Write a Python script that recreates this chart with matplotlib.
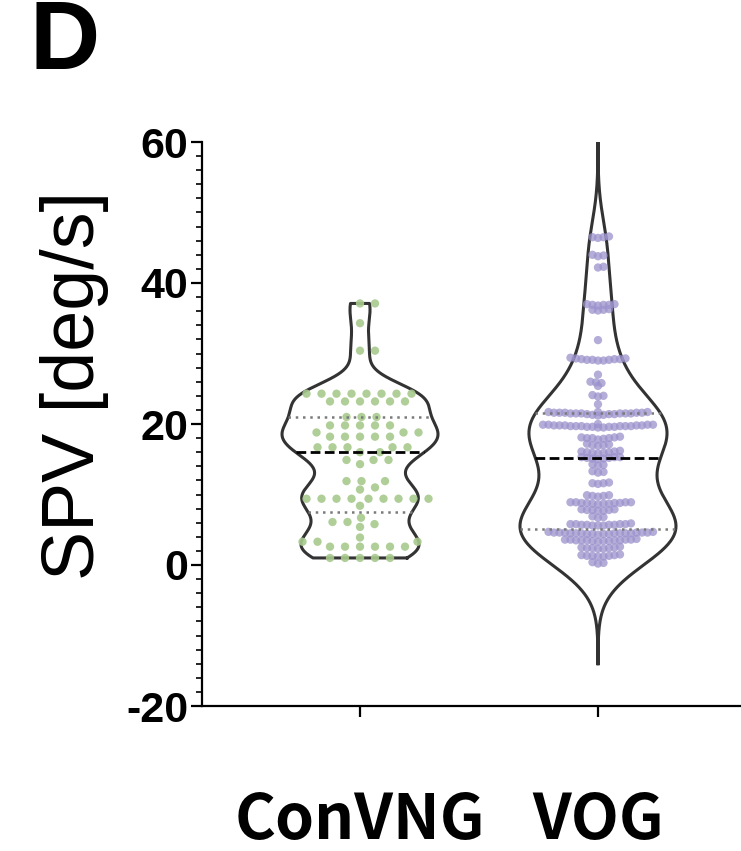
import numpy as np
import matplotlib
matplotlib.use("Agg")
import matplotlib.pyplot as plt
from matplotlib import font_manager as fm
from matplotlib.ticker import MultipleLocator

# ---------------- data ----------------
categories = ["ConVNG", "VOG"]

convng = [37.1, 37.1, 34.3, 30.4, 30.4,
          24.3, 24.3, 24.3, 24.3, 24.3, 24.3, 24.3, 24.3,
          23.2, 23.2, 23.2, 23.2, 23.2, 23.2,
          21.0, 21.0, 21.0,
          19.8, 19.8, 19.8, 19.8, 19.8,
          18.8, 18.8, 18.8,
          18.2, 18.2, 18.2, 18.2, 18.2,
          16.7, 16.7, 16.7, 16.7, 16.7,
          16.0, 16.0,
          14.9, 14.9, 14.9, 14.3,
          11.9, 11.9, 11.9, 11.0, 10.7,
          9.4, 9.4, 9.4, 9.4, 9.4, 9.4, 9.4, 9.4, 9.4,
          8.4, 6.7, 6.1, 6.1, 5.8, 5.4, 3.9,
          3.3, 3.3, 3.3,
          2.6, 2.6, 2.6, 2.6, 2.6, 2.6,
          1.0, 1.0, 1.0, 1.0, 1.0]

vog = [46.6, 46.5, 46.4, 46.5, 43.9, 44.0, 43.8, 42.3, 42.2,
       37.0, 36.9, 36.9, 37.0, 36.8, 36.9, 36.2, 36.1, 36.3, 36.2,
       31.9, 29.4, 29.2, 29.1, 29.0, 29.1, 29.2, 29.3, 29.1, 29.0, 29.2, 29.3,
       27.0, 25.9, 25.8, 26.0, 25.4, 24.0, 24.1, 23.9, 22.8,
       21.7, 21.6, 21.5, 21.4, 21.6, 21.5, 21.7, 21.3, 21.5, 21.6,
       21.4, 21.5, 21.6, 21.7, 21.3, 21.5, 21.4, 21.6, 21.5, 21.2,
       19.8, 19.7, 19.9, 19.6, 19.8, 19.7, 19.9, 19.6, 19.7, 19.8, 19.7,
       19.5, 19.9, 19.6, 19.8, 19.7, 20.0, 19.6, 19.8, 19.7, 19.9, 19.5,
       18.1, 18.0, 17.9, 18.2, 18.0, 17.8, 18.1, 18.0,
       17.1, 17.0, 16.9, 17.2, 17.0,
       16.1, 16.0, 15.9, 16.2, 16.0, 15.8, 16.1, 15.9,
       15.3, 15.2, 15.1, 15.3, 15.2, 15.0, 15.1, 15.3,
       14.3, 14.2, 14.1, 13.3, 13.2, 13.1,
       11.7, 11.6, 11.5, 11.6,
       9.9, 9.8, 9.7, 9.8, 9.9,
       8.9, 8.8, 8.7, 8.9, 8.8, 8.7, 8.9, 8.8, 8.6, 8.8, 8.9, 8.7,
       7.9, 7.8, 7.7, 7.9, 7.8, 7.7, 7.8,
       6.9, 6.8, 6.7,
       5.8, 5.7, 5.6, 5.8, 5.7, 5.9, 5.6, 5.7, 5.8, 5.6, 5.7, 5.8,
       4.6, 4.5, 4.4, 4.6, 4.5, 4.7, 4.4, 4.5, 4.6, 4.3,
       4.5, 4.6, 4.4, 4.5, 4.7, 4.5, 4.6, 4.4, 4.5, 4.6,
       3.6, 3.5, 3.4, 3.6, 3.5, 3.3, 3.6, 3.5, 3.4, 3.7, 3.5, 3.6, 3.4, 3.5,
       2.5, 2.4, 2.3, 2.5, 2.4, 2.6, 2.3, 2.4,
       1.4, 1.3, 1.2, 1.4, 1.3, 1.5, 1.2, 1.3,
       0.4, 0.3, 0.2]

yticks = [-20, 0, 20, 40, 60]
ylabel = "SPV [deg/s]"
panel = "D"

point_colors = ["#a8ca8d", "#9a92cc"]
point_alpha = [0.9, 0.75]
swarm_dx_px = [15.0, 5.5]
swarm_dy_px = [8.5, 3.5]
bandwidths = [2.2, 4.2]
truncate = [True, False]
tail_low = 14.2
tail_high = 13.5

# ---------------- fonts ----------------
def has_font(name):
    try:
        fm.findfont(fm.FontProperties(family=name, weight="bold"), fallback_to_default=False)
        return True
    except Exception:
        return False

narrow = "Liberation Sans Narrow" if has_font("Liberation Sans Narrow") else "Noto Sans CJK JP"
sans = "Liberation Sans"

# ---------------- figure ----------------
W, H = 741, 851
fig = plt.figure(figsize=(W / 100, H / 100), dpi=100)
ax_l, ax_b, ax_w, ax_h = 202, 145, 539, 564
ax = fig.add_axes([ax_l / W, ax_b / H, ax_w / W, ax_h / H])
xlim = (0.336, 2.601)
ylim = (-20, 60)
ax.set_xlim(*xlim)
ax.set_ylim(*ylim)

px_x = ax_w / (xlim[1] - xlim[0])
px_y = ax_h / (ylim[1] - ylim[0])
half_width = 78 / px_x


def swarm(vals, Dx, Dy):
    vals = np.asarray(vals, float)
    ypx = vals * px_y
    order = np.argsort(vals, kind="stable")
    xs = np.zeros(len(vals))
    placed_x, placed_y = [], []
    steps = [0.0]
    for k in range(1, 600):
        steps += [k * 0.5, -k * 0.5]
    for i in order:
        px = np.array(placed_x)
        py = np.array(placed_y)
        if len(py):
            near = np.abs(py - ypx[i]) < Dy
            nx, ny = px[near], py[near]
        else:
            nx = ny = np.array([])
        for c in steps:
            if len(nx) == 0 or np.all(((nx - c) / Dx) ** 2 + ((ny - ypx[i]) / Dy) ** 2 >= 1 - 1e-6):
                break
        xs[i] = c
        placed_x.append(c)
        placed_y.append(ypx[i])
    return xs / px_x


def kde(vals, grid, bw):
    v = np.asarray(vals, float)[:, None]
    return np.exp(-0.5 * ((grid[None, :] - v) / bw) ** 2).sum(0)


for i, (name, vals) in enumerate(zip(categories, [convng, vog])):
    pos = i + 1
    vals = np.asarray(vals, float)
    bw = bandwidths[i]
    if truncate[i]:
        grid = np.linspace(vals.min(), vals.max(), 400)
    else:
        grid = np.linspace(vals.min() - tail_low, vals.max() + tail_high, 500)
    d = kde(vals, grid, bw)
    w = d / d.max() * half_width
    xo = np.concatenate([pos + w, (pos - w)[::-1], [pos + w[0]]])
    yo = np.concatenate([grid, grid[::-1], [grid[0]]])
    ax.plot(xo, yo, color="#333333", lw=2.2, solid_joinstyle="round", zorder=2)

    offs = swarm(vals, swarm_dx_px[i], swarm_dy_px[i])
    ax.scatter(pos + offs, vals, s=36, color=point_colors[i], alpha=point_alpha[i],
               edgecolors="none", zorder=3)

    q1, med, q3 = np.percentile(vals, [25, 50, 75], method="weibull")
    for q, style in [(q1, "q"), (q3, "q"), (med, "m")]:
        hw = np.interp(q, grid, w)
        if style == "m":
            ax.plot([pos - hw, pos + hw], [q, q], color="black", lw=2.0,
                    dashes=(3.5, 1.6), zorder=4)
        else:
            ax.plot([pos - hw, pos + hw], [q, q], color="#7a7a7a", lw=1.8,
                    dashes=(1.0, 1.9), zorder=4)

# ---------------- axes styling ----------------
for s in ["top", "right"]:
    ax.spines[s].set_visible(False)
for s in ["left", "bottom"]:
    ax.spines[s].set_linewidth(1.6)
    ax.spines[s].set_color("black")

ax.set_yticks(yticks)
ax.set_yticklabels([str(t) for t in yticks], fontsize=31, fontweight="bold", family=sans)
ax.yaxis.set_minor_locator(MultipleLocator(2))
ax.tick_params(axis="y", which="major", length=8, width=1.6, pad=2, direction="out")
ax.tick_params(axis="y", which="minor", length=4.5, width=1.2, direction="out")

ax.set_xticks([1, 2])
ax.set_xticklabels(categories, fontsize=45, fontweight="bold", family=narrow)
ax.tick_params(axis="x", which="major", length=8, width=1.6, pad=88, direction="out")
for lab in ax.get_xticklabels():
    lab.set_verticalalignment("baseline")

ax.set_ylabel(ylabel, fontsize=53, family=sans, va="center")
ax.yaxis.set_label_coords((75 - ax_l) / ax_w, (851 - 385 - ax_b) / ax_h)

fig.text(30 / W, 1 - 69 / H, panel, fontsize=70, fontweight="bold", family=sans,
         ha="left", va="baseline")

fig.savefig("out.png", dpi=100)
